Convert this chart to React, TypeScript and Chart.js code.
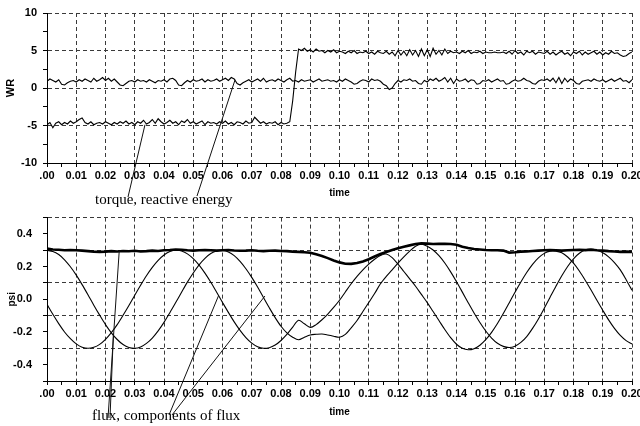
import React, { useEffect, useRef } from 'react';
import { Chart, registerables } from 'chart.js';

Chart.register(...registerables);

// ---------- data ----------
const TOP_T_STEP = 0.001; // seconds between samples of the upper plot
const BOTTOM_T_STEP = 0.002; // seconds between samples of the lower plot
const T_MIN = 0;
const T_MAX = 0.2;

const TORQUE = [
  -4.9, -4.6, -5.3, -4.7, -4.5, -4.9, -4.6, -4.8, -4.4, -4.7,
  -4.5, -4.2, -4.0, -4.6, -4.8, -4.5, -4.9, -4.7, -4.6, -4.8,
  -4.5, -4.7, -4.9, -4.6, -4.8, -4.5, -4.7, -4.4, -4.8, -4.6,
  -4.9, -4.5, -4.7, -4.3, -4.8, -4.6, -4.2, -4.7, -4.1, -4.5,
  -4.8, -4.6, -4.3, -4.7, -4.5, -4.9, -4.4, -4.6, -4.2, -4.7,
  -4.5, -4.8, -4.6, -4.4, -4.9, -4.5, -4.7, -4.6, -4.8, -4.5,
  -4.7, -4.4, -4.8, -4.6, -4.9, -4.5, -4.6, -4.8, -4.4, -4.7,
  -4.6, -3.9, -4.3, -4.7, -4.5, -4.8, -4.6, -4.7, -4.5, -4.9,
  -4.6, -4.8, -4.7, -4.5, -1.7, 2.1,
  5.2, 5.0, 5.3, 4.9, 5.1, 4.8, 5.2, 4.9, 5.0, 4.7,
  5.0, 4.8, 5.1, 4.7, 4.9, 4.8, 4.6, 4.9, 4.7, 5.0,
  4.6, 4.8, 4.7, 4.9, 4.6, 4.8, 4.5, 4.9, 4.7, 4.6,
  4.9, 4.5, 4.8, 4.3, 5.0, 4.4, 4.9, 4.3, 5.1, 4.4,
  5.0, 4.2, 5.2, 4.3, 5.1, 4.2, 5.3, 4.5, 5.0, 4.4,
  5.2, 4.6, 4.9, 4.7, 4.8, 4.6, 4.9, 4.7, 5.0, 4.6,
  4.8, 4.7, 4.9, 4.6, 4.8, 4.7, 4.7, 4.8, 4.7, 4.7,
  4.8, 4.6, 4.9, 4.5, 5.0, 4.6, 4.8, 4.4, 4.9, 4.7,
  4.9, 4.5, 4.8, 4.7, 4.6, 4.9, 4.5, 4.8, 4.4, 4.7,
  4.9, 4.5, 4.7, 4.3, 4.8, 4.6, 4.9, 4.4, 4.8, 4.5,
  4.7, 4.9, 4.5, 4.8, 4.4, 4.7, 4.5, 4.9, 4.6, 4.7,
  4.4, 4.2, 4.3, 4.6, 4.8,
];

const REACTIVE = [
  0.9, 1.2, 1.0, 0.8, 1.1, 0.5, 0.4, 0.7, 0.9, 1.0,
  0.8, 1.1, 0.9, 1.2, 1.0, 0.8, 1.3, 0.9, 1.1, 1.4,
  1.0, 1.3, 0.9, 1.2, 0.8, 0.4, 0.3, 0.6, 0.9, 1.0,
  0.8, 1.1, 0.9, 1.0, 0.8, 1.1, 0.9, 0.7, 1.0, 0.9,
  1.1, 0.8, 1.2, 1.3, 1.0, 0.4, 0.3, 0.7, 1.0, 0.8,
  1.1, 0.9, 1.0, 1.2, 0.8, 1.1, 0.9, 1.0, 1.2, 0.9,
  1.1, 1.3, 1.0, 1.4, 1.2, 0.6, 0.4, 0.7, 0.9, 1.1,
  0.8, 1.0, 1.2, 0.9, 1.3, 0.8, 1.0, 1.1, 0.9, 1.2,
  1.0, 0.8, 1.1, 1.3, 0.9, 1.0, 0.8, 1.1, 0.9, 1.0,
  1.1, 0.8, 1.0, 1.2, 0.9, 1.0, 1.1, 0.9, 1.0, 0.8,
  1.1, 0.9, 1.2, 1.0, 0.8, 0.5, 0.6, 0.9, 1.1, 1.0,
  0.8, 1.2, 1.0, 1.1, 0.9, 0.5, 0.3, -0.2, 0.0, 0.6,
  1.0, 0.8, 1.1, 1.0, 1.2, 0.9, 1.0, 0.6, 0.5, 1.0,
  0.8, 1.2, 1.0, 1.3, 0.9, 1.1, 1.4, 0.8, 1.3, 0.6,
  1.2, 0.9, 1.0, 1.2, 0.8, 1.1, 1.0, 0.5, 0.6, 1.0,
  0.9, 1.1, 0.8, 1.0, 1.2, 0.9, 1.0, 0.5, 0.6, 0.9,
  1.1, 0.9, 1.0, 1.3, 1.0, 0.9, 0.6, 0.5, 0.9, 1.1,
  1.0, 1.2, 0.9, 1.3, 0.7, 1.4, 0.6, 1.3, 0.8, 1.2,
  1.0, 0.6, 0.5, 0.9, 1.0, 1.1, 0.9, 1.2, 1.0, 0.9,
  1.1, 0.8, 1.0, 1.2, 0.9, 1.1, 1.3, 0.9, 1.0, 0.7,
  1.1,
];

const FLUX = [
  0.310, 0.305, 0.303, 0.300, 0.302, 0.300, 0.298, 0.295, 0.292, 0.290,
  0.292, 0.295, 0.293, 0.296, 0.294, 0.297, 0.293, 0.295, 0.298, 0.296,
  0.300, 0.302, 0.305, 0.303, 0.300, 0.298, 0.300, 0.302, 0.300, 0.298,
  0.300, 0.302, 0.299, 0.297, 0.298, 0.300, 0.297, 0.295, 0.297, 0.298,
  0.296, 0.295, 0.292, 0.290, 0.288, 0.285, 0.275, 0.265, 0.252, 0.238,
  0.226, 0.218, 0.217, 0.222, 0.232, 0.245, 0.262, 0.277, 0.290, 0.302,
  0.312, 0.322, 0.330, 0.338, 0.342, 0.341, 0.338, 0.339, 0.340, 0.338,
  0.334, 0.322, 0.314, 0.308, 0.305, 0.302, 0.300, 0.300, 0.298, 0.286,
  0.288, 0.292, 0.293, 0.296, 0.298, 0.300, 0.302, 0.300, 0.298, 0.300,
  0.302, 0.303, 0.301, 0.303, 0.300, 0.298, 0.295, 0.293, 0.290, 0.292,
  0.290,
];

const FLUX_A = [
  0.300, 0.293, 0.274, 0.242, 0.199, 0.148, 0.090, 0.028, -0.036, -0.097,
  -0.155, -0.205, -0.246, -0.277, -0.295, -0.300, -0.292, -0.270, -0.237, -0.193,
  -0.141, -0.082, -0.020, 0.043, 0.105, 0.161, 0.211, 0.251, 0.280, 0.296,
  0.300, 0.290, 0.267, 0.232, 0.187, 0.134, 0.075, 0.011, -0.052, -0.112,
  -0.165, -0.205, -0.232, -0.248, -0.232, -0.218, -0.214, -0.212, -0.218, -0.226,
  -0.232, -0.215, -0.175, -0.130, -0.075, -0.020, 0.035, 0.095, 0.140, 0.180,
  0.222, 0.260, 0.295, 0.325, 0.337, 0.325, 0.302, 0.267, 0.222, 0.168,
  0.108, 0.044, -0.021, -0.084, -0.142, -0.194, -0.237, -0.269, -0.288, -0.295,
  -0.287, -0.264, -0.228, -0.178, -0.120, -0.055, 0.013, 0.080, 0.144, 0.201,
  0.248, 0.282, 0.302, 0.307, 0.300, 0.285, 0.260, 0.225, 0.180, 0.120,
  0.055,
];

const FLUX_B = [
  -0.031, -0.092, -0.149, -0.200, -0.241, -0.273, -0.293, -0.300, -0.294, -0.276,
  -0.245, -0.204, -0.155, -0.098, -0.038, 0.025, 0.086, 0.144, 0.195, 0.238,
  0.271, 0.292, 0.302, 0.295, 0.278, 0.249, 0.209, 0.160, 0.104, 0.043,
  -0.019, -0.080, -0.138, -0.190, -0.234, -0.268, -0.290, -0.300, -0.296, -0.280,
  -0.252, -0.215, -0.170, -0.128, -0.150, -0.172, -0.155, -0.125, -0.090, -0.050,
  -0.006, 0.045, 0.095, 0.140, 0.180, 0.215, 0.245, 0.268, 0.277, 0.255,
  0.215, 0.170, 0.125, 0.080, 0.030, -0.020, -0.075, -0.130, -0.185, -0.235,
  -0.275, -0.300, -0.309, -0.302, -0.281, -0.247, -0.202, -0.148, -0.087, -0.022,
  0.043, 0.106, 0.164, 0.214, 0.254, 0.281, 0.295, 0.295, 0.285, 0.259,
  0.221, 0.173, 0.117, 0.057, -0.006, -0.067, -0.126, -0.178, -0.221, -0.253,
  -0.273,
];

const TOP_Y_MIN = -10;
const TOP_Y_MAX = 10;
const TOP_Y_STEP = 2.5;
const BOTTOM_Y_MIN = -0.5;
const BOTTOM_Y_MAX = 0.5;
const BOTTOM_Y_STEP = 0.1;
const X_STEP = 0.005;

const TOP_Y_TITLE = 'WR';
const BOTTOM_Y_TITLE = 'psi';
const X_TITLE = 'time';
const TOP_NOTE = 'torque, reactive energy';
const BOTTOM_NOTE = 'flux, components of flux';

// where each leader line touches a curve (time, value)
const TOP_TARGETS = [
  { t: 0.0335, v: -4.9 },
  { t: 0.0643, v: 1.1 },
];
const BOTTOM_TARGETS = [
  { t: 0.0247, v: 0.297 },
  { t: 0.0227, v: -0.21 },
  { t: 0.0586, v: 0.02 },
  { t: 0.0745, v: 0.02 },
];

// ---------- styling ----------
const SANS = "'Liberation Sans', Arial, sans-serif";
const SERIF = "'Liberation Serif', 'Times New Roman', serif";
const GRID = '#3a3a3a';

const toPoints = (vals: number[], step: number) =>
  vals.map((v, i) => ({ x: +(i * step).toFixed(4), y: v }));

function xAxis(height: number, titlePadBottom: number) {
  return {
    type: 'linear' as const,
    min: T_MIN,
    max: T_MAX,
    afterFit: (s: any) => {
      s.height = height;
    },
    ticks: {
      stepSize: X_STEP,
      autoSkip: false,
      maxRotation: 0,
      minRotation: 0,
      padding: 2,
      color: '#000',
      font: { family: SANS, size: 11, weight: 'bold' as const },
      callback: (val: any) => {
        const k = Math.round(Number(val) * 1000);
        if (k % 10 !== 0) return '';
        return k === 0 ? '.00' : (k / 1000).toFixed(2);
      },
    },
    grid: {
      color: (c: any) => {
        const k = Math.round((c.tick?.value ?? 0) * 1000);
        return k % 10 === 0 && k !== 0 ? GRID : 'rgba(0,0,0,0)';
      },
      lineWidth: 1,
      tickLength: 4,
      tickColor: '#000',
      tickWidth: 1,
    },
    border: { display: true, color: '#000', width: 1, dash: [4, 3] },
    title: {
      display: true,
      text: X_TITLE,
      color: '#000',
      font: { family: SANS, size: 10, weight: 'bold' as const },
      padding: { top: 0, bottom: titlePadBottom },
    },
  };
}

function makeNotePlugin(
  id: string,
  text: string,
  tx: number,
  ty: number,
  starts: { dx: number; dy: number }[],
  targets: { t: number; v: number }[]
) {
  return {
    id,
    afterDraw(chart: any) {
      const ctx = chart.ctx;
      const xs = chart.scales.x;
      const ys = chart.scales.y;
      ctx.save();
      ctx.strokeStyle = '#111';
      ctx.lineWidth = 1;
      targets.forEach((p, i) => {
        const st = starts[i];
        ctx.beginPath();
        ctx.moveTo(tx + st.dx, ty + st.dy);
        ctx.lineTo(xs.getPixelForValue(p.t), ys.getPixelForValue(p.v));
        ctx.stroke();
      });
      ctx.fillStyle = '#000';
      ctx.font = `15px ${SERIF}`;
      ctx.textBaseline = 'alphabetic';
      ctx.textAlign = 'left';
      ctx.fillText(text, tx, ty);
      ctx.restore();
    },
  };
}

export default function App() {
  const topRef = useRef<HTMLCanvasElement>(null);
  const botRef = useRef<HTMLCanvasElement>(null);

  useEffect(() => {
    const topChart = new Chart(topRef.current!, {
      type: 'line',
      data: {
        datasets: [
          {
            data: toPoints(TORQUE, TOP_T_STEP),
            borderColor: '#000',
            borderWidth: 1.1,
            pointRadius: 0,
            tension: 0,
          },
          {
            data: toPoints(REACTIVE, TOP_T_STEP),
            borderColor: '#000',
            borderWidth: 1.1,
            pointRadius: 0,
            tension: 0,
          },
        ],
      },
      options: {
        responsive: false,
        animation: false,
        layout: { padding: { top: 13, right: 28, left: 0, bottom: 0 } },
        plugins: { legend: { display: false }, tooltip: { enabled: false } },
        scales: {
          x: xAxis(50, 14),
          y: {
            type: 'linear',
            min: TOP_Y_MIN,
            max: TOP_Y_MAX,
            afterFit: (s: any) => {
              s.width = 47;
            },
            ticks: {
              stepSize: TOP_Y_STEP,
              padding: 6,
              color: '#000',
              font: { family: SANS, size: 11, weight: 'bold' },
              callback: (val: any) => {
                const v = Number(val);
                return Math.abs(v % 5) < 1e-9 ? String(v) : '';
              },
            },
            grid: {
              color: (c: any) => {
                const v = c.tick?.value ?? 0;
                return Math.abs(v % 5) < 1e-9 && v !== TOP_Y_MIN ? GRID : 'rgba(0,0,0,0)';
              },
              tickLength: 4,
              tickColor: '#000',
              tickWidth: 1,
            },
            border: { display: true, color: '#000', width: 1, dash: [4, 3] },
            title: {
              display: true,
              text: TOP_Y_TITLE,
              color: '#000',
              font: { family: SANS, size: 11, weight: 'bold' },
              padding: { top: 4, bottom: 0 },
            },
          },
        },
      } as any,
      plugins: [
        makeNotePlugin(
          'topNote',
          TOP_NOTE,
          95,
          204,
          [
            { dx: 33, dy: -7 },
            { dx: 102, dy: -8 },
          ],
          TOP_TARGETS
        ),
      ],
    });

    const botChart = new Chart(botRef.current!, {
      type: 'line',
      data: {
        datasets: [
          {
            data: toPoints(FLUX, BOTTOM_T_STEP),
            borderColor: '#000',
            borderWidth: 2.6,
            pointRadius: 0,
            tension: 0,
          },
          {
            data: toPoints(FLUX_A, BOTTOM_T_STEP),
            borderColor: '#000',
            borderWidth: 1.1,
            pointRadius: 0,
            tension: 0.3,
          },
          {
            data: toPoints(FLUX_B, BOTTOM_T_STEP),
            borderColor: '#000',
            borderWidth: 1.1,
            pointRadius: 0,
            tension: 0.3,
          },
        ],
      },
      options: {
        responsive: false,
        animation: false,
        layout: { padding: { top: 16.5, right: 28, left: 0, bottom: 0 } },
        plugins: { legend: { display: false }, tooltip: { enabled: false } },
        scales: {
          x: xAxis(45, 8),
          y: {
            type: 'linear',
            min: BOTTOM_Y_MIN,
            max: BOTTOM_Y_MAX,
            afterFit: (s: any) => {
              s.width = 47;
            },
            ticks: {
              stepSize: BOTTOM_Y_STEP,
              padding: 11,
              color: '#000',
              font: { family: SANS, size: 11, weight: 'bold' },
              callback: (val: any) => {
                const k = Math.round(Number(val) * 10);
                return k % 2 === 0 && Math.abs(k) < 5 ? (k / 10).toFixed(1) : '';
              },
            },
            grid: {
              color: (c: any) => {
                const k = Math.round((c.tick?.value ?? 0) * 10);
                return Math.abs(k % 2) === 1 && k !== -5 ? GRID : 'rgba(0,0,0,0)';
              },
              tickLength: 4,
              tickColor: '#000',
              tickWidth: 1,
            },
            border: { display: true, color: '#000', width: 1, dash: [4, 3] },
            title: {
              display: true,
              text: BOTTOM_Y_TITLE,
              color: '#000',
              font: { family: SANS, size: 10, weight: 'bold' },
              padding: { top: 6, bottom: 0 },
            },
          },
        },
      } as any,
      plugins: [
        makeNotePlugin(
          'botNote',
          BOTTOM_NOTE,
          92,
          220,
          [
            { dx: 16, dy: -2 },
            { dx: 18, dy: -2 },
            { dx: 77, dy: -5 },
            { dx: 80, dy: -5 },
          ],
          BOTTOM_TARGETS
        ),
      ],
    });

    return () => {
      topChart.destroy();
      botChart.destroy();
    };
  }, []);

  return (
    <div
      style={{
        position: 'fixed',
        left: 0,
        top: 0,
        width: 640,
        height: 426,
        overflow: 'hidden',
        background: '#fff',
      }}
    >
      <canvas
        ref={topRef}
        width={660}
        height={213}
        style={{ position: 'absolute', left: 0, top: 0, width: 660, height: 213 }}
      />
      <canvas
        ref={botRef}
        width={660}
        height={226}
        style={{ position: 'absolute', left: 0, top: 200, width: 660, height: 226 }}
      />
    </div>
  );
}
